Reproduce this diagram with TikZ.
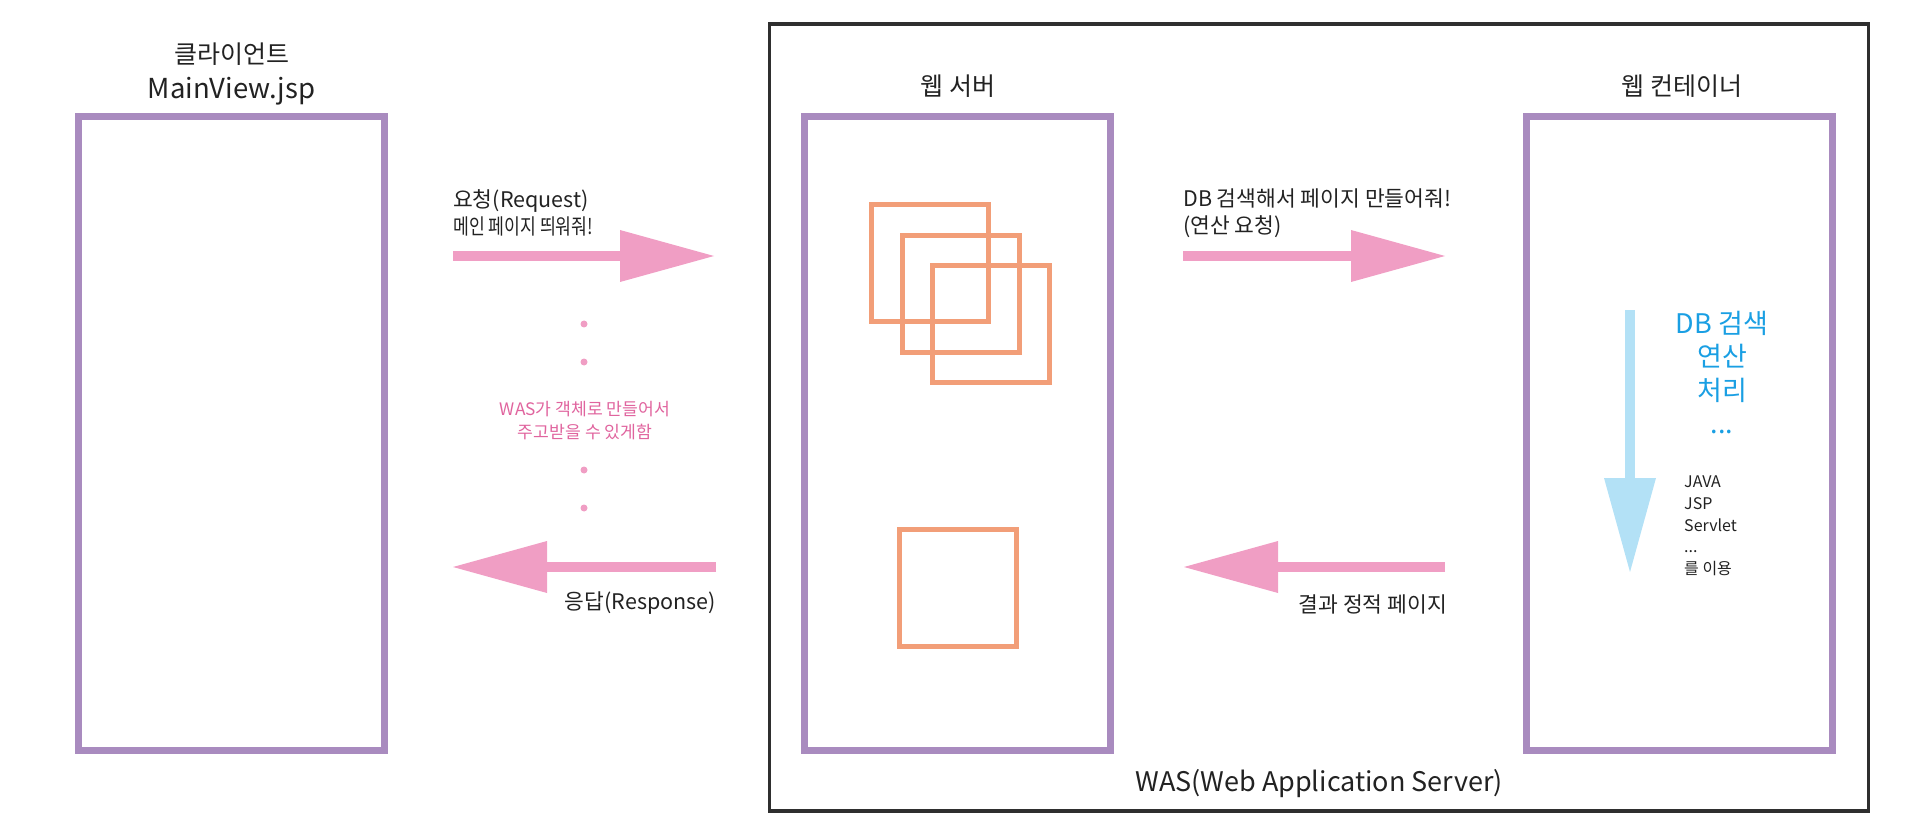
\documentclass[tikz,border=0pt]{standalone}
\usepackage{fontspec}
\setmainfont{Noto Sans CJK KR}
\newfontfamily\narrowkr{Noto Sans CJK KR}[FakeStretch=0.8]
\usetikzlibrary{arrows.meta}

\definecolor{tierpurple}{HTML}{A98BBF}
\definecolor{pageorange}{HTML}{F29E78}
\definecolor{flowpink}{HTML}{F09EC4}
\definecolor{flowblue}{HTML}{B3E1F6}
\definecolor{notepink}{HTML}{E0649E}
\definecolor{noteblue}{HTML}{1A9FE3}
\definecolor{framegray}{HTML}{2F2F2F}
\definecolor{textgray}{HTML}{222222}

\begin{document}
\begin{tikzpicture}[
  x=1pt, y=-1pt,
  tier/.style={draw=tierpurple, line width=7pt, inner sep=0pt,
    minimum width=306pt, minimum height=634pt},
  pagebox/.style={draw=pageorange, line width=5pt, inner sep=0pt, minimum size=117pt},
  flowarrow/.style={line width=10pt, flowpink,
    -{Triangle[length=94pt,width=52pt,line width=0pt]}},
  tiertitle/.style={inner sep=0pt, align=center, text=textgray,
    font=\fontsize{25}{35}\selectfont},
  flowlabel/.style={inner sep=0pt, text=textgray, font=\fontsize{21.5}{27}\selectfont}
]
  \useasboundingbox (0,0) rectangle (1920,834);

  \node[draw=framegray, line width=3.5pt, inner sep=0pt,
    minimum width=1098.6pt, minimum height=787pt] (was) at (1319,417.5) {};

  \node[tier] (client) at (231.5,433.3) {};
  \node[tier] (webserver) at (957.5,433.3) {};
  \node[tier] (container) at (1679.2,433.3) {};

  \node[tiertitle] (client-title) at (231.5,74)
    {클라이언트\\\fontsize{27.5}{35}\selectfont MainView.jsp};
  \node[tiertitle] (webserver-title) at (958,86) {웹 서버};
  \node[tiertitle] (container-title) at (1682,86) {웹 컨테이너};
  \node[tiertitle, font=\fontsize{27}{35}\selectfont] (was-title) at (1319,784)
    {WAS(Web Application Server)};

  \node[pagebox] (page-a) at (929.8,262.7) {};
  \node[pagebox] (page-b) at (960.8,293.8) {};
  \node[pagebox] (page-c) at (990.8,324) {};
  \node[pagebox] (page-static) at (957.5,588) {};

  \coordinate (request-from) at (453,256);
  \coordinate (request-to) at (714,256);
  \coordinate (response-from) at (716,567);
  \coordinate (response-to) at (453,567);
  \coordinate (build-from) at (1183,256);
  \coordinate (build-to) at (1445,256);
  \coordinate (result-from) at (1445,567);
  \coordinate (result-to) at (1184,567);
  \coordinate (process-from) at (1630,310);
  \coordinate (process-to) at (1630,572);

  \draw[flowarrow] (request-from) -- (request-to);
  \draw[flowarrow] (response-from) -- (response-to);
  \draw[flowarrow] (build-from) -- (build-to);
  \draw[flowarrow] (result-from) -- (result-to);
  \draw[flowarrow, flowblue] (process-from) -- (process-to);

  \node[flowlabel, anchor=west, align=left]
    (request-label) at (453,212.5) {요청(Request)\\\narrowkr 메인 페이지 띄워줘!};
  \node[flowlabel, anchor=east] (response-label) at (716,603) {응답(Response)};
  \node[flowlabel, anchor=west, align=left]
    (build-label) at (1183,213) {DB 검색해서 페이지 만들어줘!\\(연산 요청)};
  \node[flowlabel, anchor=east] (result-label) at (1447,604) {결과 정적 페이지};

  \fill[flowpink] (584,324) circle (3.5pt);
  \fill[flowpink] (584,362) circle (3.5pt);
  \fill[flowpink] (584,470) circle (3.5pt);
  \fill[flowpink] (584,508) circle (3.5pt);
  \node[inner sep=0pt, align=center, text=notepink, font=\fontsize{17.2}{23}\selectfont]
    (was-note) at (585,420.5) {WAS가 객체로 만들어서\\주고받을 수 있게함};

  \node[inner sep=0pt, align=center, text=noteblue, font=\fontsize{27}{33.5}\selectfont]
    (process-note) at (1722,372.5) {DB 검색\\연산\\처리\\...};
  \node[inner sep=0pt, anchor=west, align=left, text=textgray,
    font=\fontsize{16}{21.75}\selectfont]
    (tech-note) at (1684,526) {JAVA\\JSP\\Servlet\\...\\를 이용};
\end{tikzpicture}
\end{document}
